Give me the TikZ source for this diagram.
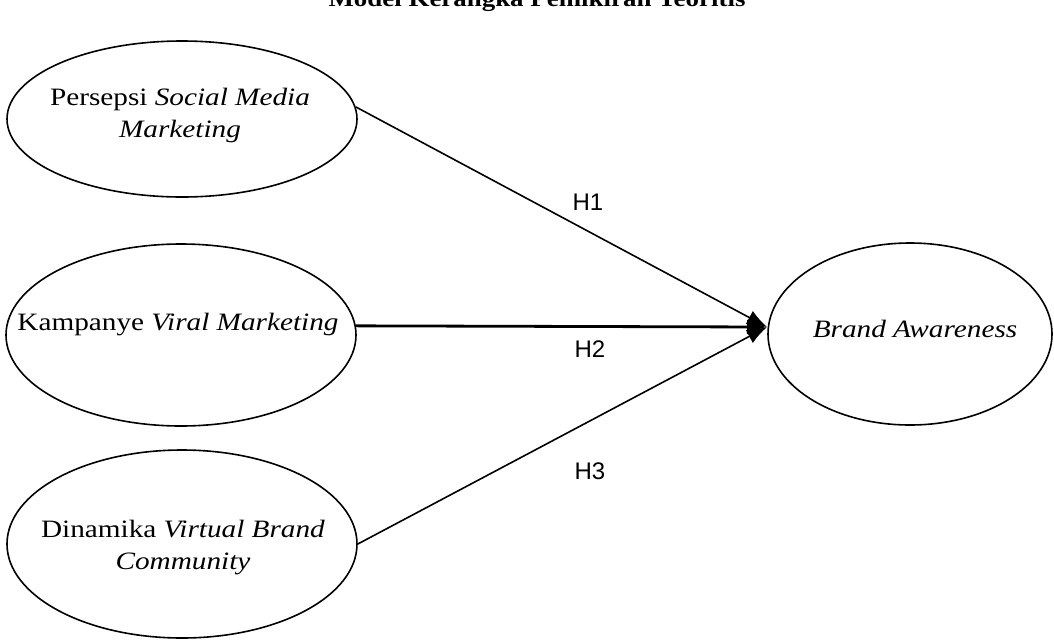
\documentclass[tikz,border=0pt]{standalone}
\usepackage{fontspec}
\setmainfont{Liberation Serif}[FakeStretch=1.17]
\newfontfamily\hfont{Liberation Sans}
\usetikzlibrary{shapes.geometric,arrows.meta}
\begin{document}
\begin{tikzpicture}[x=1pt,y=-1pt,
  oval/.style={draw,ellipse,line width=1.6pt,inner sep=0pt},
  lbl/.style={font=\fontsize{25}{32}\selectfont,align=center,inner sep=0pt},
  hyp/.style={font=\hfont\fontsize{24}{28}\selectfont,inner sep=0pt},
  link/.style={line width=1.6pt,-{Latex[length=20pt,width=15pt]}}]
\clip (0,0) rectangle (1054,641);
\useasboundingbox (0,0) rectangle (1054,641);
\node[font=\bfseries\fontsize{23}{28}\selectfont,anchor=base,inner sep=0pt] (title) at (537,6) {Model Kerangka Pemikiran Teoritis};
\node[oval,minimum width=350pt,minimum height=156pt] (e1) at (182,119) {};
\node[oval,minimum width=350pt,minimum height=182pt] (e2) at (181,335) {};
\node[oval,minimum width=350pt,minimum height=188pt] (e3) at (182,544) {};
\node[oval,minimum width=284pt,minimum height=182pt] (ba) at (910,334) {};
\node[lbl] (t1) at (180,115) {Persepsi \textit{Social Media}\\\textit{Marketing}};
\node[lbl] (t2) at (178,325) {Kampanye \textit{Viral Marketing}};
\node[lbl] (t3) at (183,548) {Dinamika \textit{Virtual Brand}\\\textit{Community}};
\node[lbl] (t4) at (915,329) {\textit{Brand Awareness}};
\coordinate (tip) at (767,327);
\draw[link] (e1.4) -- (tip);
\draw[link,line width=2.8pt] (e2.3) -- (tip);
\draw[link] (e3.east) -- (tip);
\node[hyp] (h1) at (588,202) {H1};
\node[hyp] (h2) at (590,349) {H2};
\node[hyp] (h3) at (590,471) {H3};
\end{tikzpicture}
\end{document}
